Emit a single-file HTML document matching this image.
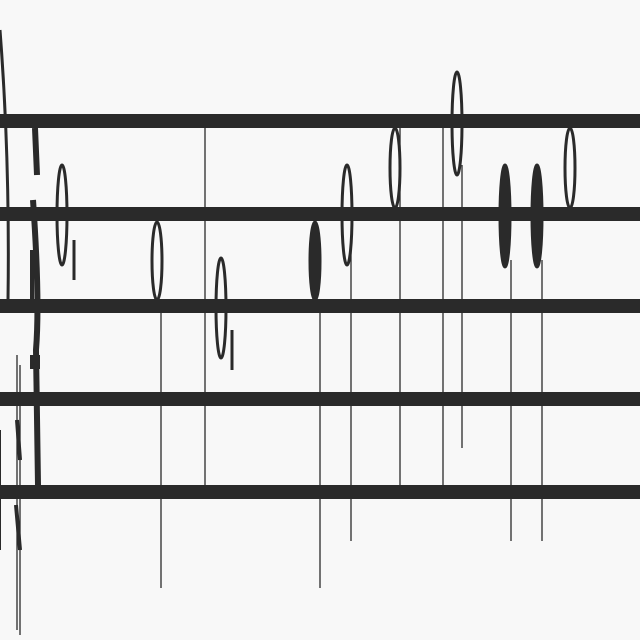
<!DOCTYPE html>
<html><head><meta charset="utf-8"><style>
html,body{margin:0;padding:0;background:#f8f8f8;}
svg{display:block}
</style></head><body>
<svg id="score" width="640" height="640" viewBox="0 0 640 640" xmlns="http://www.w3.org/2000/svg">
<rect width="640" height="640" fill="#f8f8f8"/>
<g id="clef" fill="none" stroke="#2a2a2a">
<path d="M0 30 Q10 160 8 300" stroke-width="3"/>
<path d="M35 128 L37 175 M33 200 Q40 300 36 350 L38 485" stroke-width="6"/>
<path d="M32 250 L32 300" stroke-width="4"/>
<rect x="30" y="355" width="10" height="14" fill="#2a2a2a" stroke="none"/>
<path d="M17 420 L20 460 M16 505 L20 550" stroke-width="4"/>
<path d="M0 430 L0 550" stroke-width="2"/>
</g>
<g id="staff"></g>
<g id="stems"></g>
<g id="heads"></g>
</svg>
<script>
const staffY = [121, 214, 306, 399, 492];
const stemX = [205, 161, 320, 351, 400, 443, 462, 511, 542, 17, 20];
const stemTop = [128, 300, 300, 240, 128, 128, 165, 260, 260, 355, 365];
const stemBottom = [485, 588, 588, 541, 485, 485, 448, 541, 541, 630, 635];
const headX = [62, 157, 221, 315, 347, 395, 457, 505, 537, 570];
const headTop = [165, 222, 258, 222, 165, 128, 72, 165, 165, 128];
const headBottom = [265, 300, 358, 300, 265, 208, 175, 267, 267, 208];
const headFilled = [0, 0, 0, 1, 0, 0, 0, 1, 1, 0];
const NS = 'http://www.w3.org/2000/svg';
const staff = document.getElementById('staff');
staffY.forEach(function(y){
  const r = document.createElementNS(NS,'rect');
  r.setAttribute('x',0); r.setAttribute('y',y-7); r.setAttribute('width',640); r.setAttribute('height',14);
  r.setAttribute('fill','#2a2a2a');
  
  
  staff.appendChild(r);
});
const stems = document.getElementById('stems');
stemX.forEach(function(x,i){
  const l = document.createElementNS(NS,'line');
  l.setAttribute('x1',x); l.setAttribute('x2',x); l.setAttribute('y1',stemTop[i]); l.setAttribute('y2',stemBottom[i]);
  l.setAttribute('stroke','#2a2a2a'); l.setAttribute('stroke-width',1.3);
  
  
  stems.appendChild(l);
});
const heads = document.getElementById('heads');
headX.forEach(function(x,i){
  const e = document.createElementNS(NS,'ellipse');
  const cy = (headTop[i]+headBottom[i])/2, ry = (headBottom[i]-headTop[i])/2;
  e.setAttribute('cx',x); e.setAttribute('cy',cy); e.setAttribute('rx',headFilled[i]?5:5); e.setAttribute('ry',ry);
  e.setAttribute('fill',headFilled[i]?'#2a2a2a':'none');
  e.setAttribute('stroke','#2a2a2a'); e.setAttribute('stroke-width',3);
  
  
  heads.appendChild(e);
});
[[74,240,280],[232,330,370]].forEach(function(t){
  const l = document.createElementNS(NS,'line');
  l.setAttribute('x1',t[0]); l.setAttribute('x2',t[0]); l.setAttribute('y1',t[1]); l.setAttribute('y2',t[2]);
  l.setAttribute('stroke','#2a2a2a'); l.setAttribute('stroke-width',3);
  
  
  heads.appendChild(l);
});
</script>
</body></html>
